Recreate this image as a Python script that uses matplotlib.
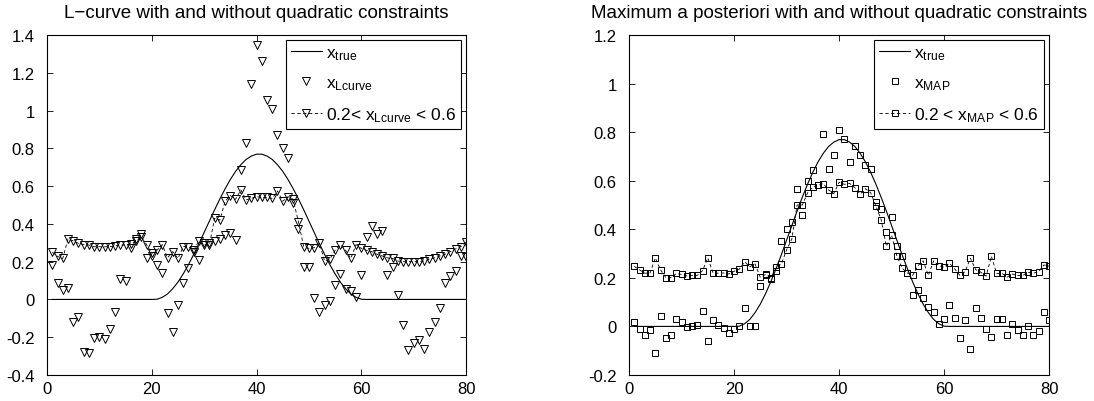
import numpy as np
import matplotlib
matplotlib.use('Agg')
import matplotlib.pyplot as plt
from matplotlib.ticker import FormatStrFormatter

plt.rcParams['font.family'] = ['Liberation Sans', 'DejaVu Sans']
plt.rcParams['mathtext.default'] = 'regular'

# sample index
idx = np.arange(1, 81)

x_true = [0, 0, 0, 0, 0, 0, 0, 0, 0, 0, 0, 0, 0, 0, 0, 0, 0, 0, 0, 0,
          0.001, 0.011, 0.029, 0.057, 0.092, 0.135, 0.184, 0.238, 0.295, 0.355,
          0.415, 0.475, 0.532, 0.586, 0.635, 0.678, 0.713, 0.741, 0.759, 0.769,
          0.769, 0.759, 0.741, 0.713, 0.678, 0.635, 0.586, 0.532, 0.475, 0.415,
          0.355, 0.295, 0.238, 0.184, 0.135, 0.092, 0.057, 0.029, 0.011, 0.001,
          0, 0, 0, 0, 0, 0, 0, 0, 0, 0, 0, 0, 0, 0, 0, 0, 0, 0, 0, 0]

# L-curve solution, unconstrained
x_lcurve = [0.18, 0.085, 0.05, 0.058, -0.118, -0.092, -0.277, -0.286, -0.203, -0.198,
            -0.207, -0.154, -0.069, 0.108, 0.097, 0.27, 0.32, 0.345, 0.22, 0.23,
            0.18, 0.14, -0.074, -0.17, -0.03, 0.085, 0.164, 0.25, 0.21, 0.30,
            0.30, 0.31, 0.32, 0.34, 0.35, 0.315, 0.685, 0.827, 1.14, 1.345,
            1.26, 1.057, 1.01, 0.87, 0.80, 0.75, 0.51, 0.375, 0.17, 0.17,
            0.005, -0.065, -0.027, -0.009, 0.076, 0.133, 0.055, 0.044, 0.014, 0.129,
            0.33, 0.39, 0.345, 0.36, 0.129, 0.173, 0.023, -0.133, -0.27, -0.233,
            -0.215, -0.26, -0.171, -0.122, -0.048, 0.085, 0.125, 0.15, 0.231, 0.226]

# L-curve solution with 0.2 < x < 0.6
x_lcurve_c = [0.25, 0.228, 0.217, 0.32, 0.31, 0.297, 0.29, 0.288, 0.279, 0.279,
              0.279, 0.279, 0.284, 0.288, 0.288, 0.295, 0.31, 0.33, 0.29, 0.244,
              0.26, 0.29, 0.22, 0.253, 0.217, 0.28, 0.28, 0.26, 0.31, 0.29,
              0.29, 0.43, 0.42, 0.52, 0.55, 0.53, 0.58, 0.527, 0.535, 0.544,
              0.54, 0.54, 0.535, 0.574, 0.52, 0.544, 0.53, 0.41, 0.28, 0.27,
              0.274, 0.297, 0.203, 0.214, 0.26, 0.29, 0.26, 0.217, 0.29, 0.27,
              0.26, 0.253, 0.239, 0.23, 0.22, 0.217, 0.203, 0.2, 0.2, 0.2,
              0.2, 0.203, 0.214, 0.22, 0.23, 0.239, 0.253, 0.267, 0.28, 0.302]

# MAP solution, unconstrained
x_map = [0.02, -0.012, -0.034, -0.016, -0.108, 0.042, -0.047, -0.034, 0.029, 0.02,
         -0.004, 0.001, 0.005, 0.063, -0.062, 0.025, 0.004, -0.005, -0.029, -0.012,
         0.0, 0.075, 0.0, 0.0, 0.165, 0.21, 0.197, 0.229, 0.352, 0.40,
         0.43, 0.567, 0.46, 0.60, 0.644, 0.582, 0.793, 0.65, 0.704, 0.808,
         0.773, 0.677, 0.742, 0.704, 0.663, 0.65, 0.514, 0.485, 0.387, 0.452,
         0.332, 0.29, 0.22, 0.13, 0.15, 0.115, 0.08, 0.06, 0.01, 0.029,
         0.089, 0.036, -0.047, 0.025, -0.092, 0.077, 0.034, -0.01, -0.045, 0.032,
         0.032, -0.034, 0.011, -0.016, -0.037, 0.0, -0.034, -0.02, 0.059, 0.025]

# MAP solution with 0.2 < x < 0.6
x_map_c = [0.247, 0.233, 0.219, 0.22, 0.282, 0.233, 0.201, 0.201, 0.218, 0.214,
           0.208, 0.21, 0.21, 0.23, 0.282, 0.22, 0.219, 0.22, 0.216, 0.227,
           0.236, 0.266, 0.246, 0.257, 0.202, 0.214, 0.2, 0.243, 0.257, 0.315,
           0.36, 0.5, 0.5, 0.55, 0.574, 0.582, 0.588, 0.562, 0.547, 0.594,
           0.585, 0.589, 0.571, 0.545, 0.567, 0.551, 0.496, 0.44, 0.33, 0.375,
           0.29, 0.24, 0.22, 0.21, 0.25, 0.27, 0.21, 0.27, 0.25, 0.244,
           0.26, 0.237, 0.21, 0.226, 0.281, 0.234, 0.223, 0.207, 0.289, 0.218,
           0.219, 0.203, 0.216, 0.21, 0.21, 0.223, 0.219, 0.226, 0.253, 0.248]


def panel(ax, free, con, marker, ms, name, sep, title, ylim):
    ax.plot(idx, x_true, color='k', lw=0.8, label=r'x$_{true}$')
    ax.plot(idx, free, ls='none', marker=marker, ms=ms, mfc='none', mec='k',
            mew=0.7, label='x$_{%s}$' % name)
    ax.plot(idx, con, ls=(0, (4, 3)), lw=0.6, color='k', marker=marker, ms=ms,
            mfc='none', mec='k', mew=0.7,
            label='0.2%s x$_{%s}$ < 0.6' % (sep, name))
    ax.set_xlim(0, 80)
    ax.set_ylim(*ylim)
    ax.set_xticks([0, 20, 40, 60, 80])
    ax.set_yticks(np.arange(ylim[0], ylim[1] + 0.01, 0.2))
    ax.yaxis.set_major_formatter(FormatStrFormatter('%g'))
    ax.tick_params(direction='in', top=True, right=True, labelsize=12,
                   length=4, width=0.6)
    ax.tick_params(axis='y', pad=9)
    ax.tick_params(axis='x', pad=4)
    for s in ax.spines.values():
        s.set_linewidth(0.8)
    ax.set_title(title, fontsize=13.5, pad=13)
    leg = ax.legend(loc='upper right', fontsize=12.5, frameon=True, fancybox=False,
                    edgecolor='k', framealpha=1, borderaxespad=0.3,
                    handlelength=1.8, handletextpad=0.2, labelspacing=0.75,
                    borderpad=0.3)
    leg.get_frame().set_linewidth(0.8)


fig = plt.figure(figsize=(10.94, 4.02), dpi=100)
ax1 = fig.add_axes([0.043, 0.0647, 0.383, 0.8458])
ax2 = fig.add_axes([0.575, 0.0647, 0.384, 0.8458])

panel(ax1, x_lcurve, x_lcurve_c, 'v', 6, 'Lcurve', '<',
      'L\u2212curve with and without quadratic constraints', (-0.4, 1.4))
panel(ax2, x_map, x_map_c, 's', 4.5, 'MAP', ' <',
      'Maximum a posteriori with and without quadratic constraints', (-0.2, 1.2))

fig.savefig('out.png', dpi=100)
